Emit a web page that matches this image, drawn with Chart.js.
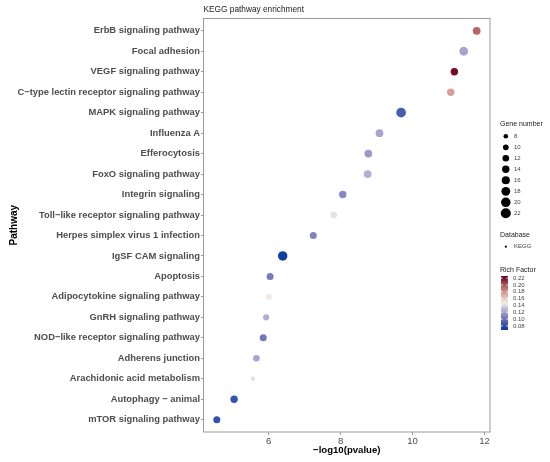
<!DOCTYPE html>
<html lang="en">
<head>
  <meta charset="UTF-8" />
  <title>KEGG pathway enrichment</title>
  <script src="https://cdn.jsdelivr.net/npm/chart.js"></script>
  <style>
    html, body { margin: 0; padding: 0; background: #fff; }
    .chart-container { width: 550px; height: 462px; position: relative; }
  </style>
</head>
<body>
  <div class="chart-container">
    <canvas id="keggChart"></canvas>
  </div>

  <script>
    // pathways, top to bottom
    const pathways = [
      "ErbB signaling pathway",
      "Focal adhesion",
      "VEGF signaling pathway",
      "C\u2212type lectin receptor signaling pathway",
      "MAPK signaling pathway",
      "Influenza A",
      "Efferocytosis",
      "FoxO signaling pathway",
      "Integrin signaling",
      "Toll\u2212like receptor signaling pathway",
      "Herpes simplex virus 1 infection",
      "IgSF CAM signaling",
      "Apoptosis",
      "Adipocytokine signaling pathway",
      "GnRH signaling pathway",
      "NOD\u2212like receptor signaling pathway",
      "Adherens junction",
      "Arachidonic acid metabolism",
      "Autophagy \u2212 animal",
      "mTOR signaling pathway"
    ];

    // -log10(pvalue)
    const logP = [11.78, 11.42, 11.16, 11.06, 9.68, 9.08, 8.77, 8.75, 8.06, 7.81,
                  7.24, 6.39, 6.04, 6.01, 5.93, 5.85, 5.66, 5.56, 5.04, 4.56];

    const geneNumber = [15, 18, 14, 14, 21, 15, 15, 15, 14, 12,
                        13, 20, 13, 10, 11, 13, 12, 8, 14, 13];

    const richFactor = [0.195, 0.121, 0.222, 0.175, 0.090, 0.121, 0.117, 0.125, 0.110, 0.143,
                        0.108, 0.070, 0.104, 0.148, 0.125, 0.103, 0.121, 0.152, 0.083, 0.082];

    const xTicks = [6, 8, 10, 12];
    const sizeBreaks = [8, 10, 12, 14, 16, 18, 20, 22];
    const richBreaks = [0.22, 0.20, 0.18, 0.16, 0.14, 0.12, 0.10, 0.08];

    const FONT = "'Liberation Sans', Arial, sans-serif";
    const RICH_MIN = 0.068, RICH_MAX = 0.226;

    // colour ramp for Rich Factor (blue -> off-white -> dark red)
    const rampStops = [
      [0.068, [11, 60, 159]],
      [0.090, [74, 92, 176]],
      [0.110, [138, 134, 192]],
      [0.130, [192, 188, 216]],
      [0.147, [243, 236, 228]],
      [0.170, [220, 176, 164]],
      [0.195, [184, 100, 100]],
      [0.226, [103, 0, 31]]
    ];

    function richColor(v) {
      if (v <= rampStops[0][0]) return `rgb(${rampStops[0][1].join(",")})`;
      for (let i = 1; i < rampStops.length; i++) {
        const [v1, c1] = rampStops[i];
        const [v0, c0] = rampStops[i - 1];
        if (v <= v1) {
          const t = (v - v0) / (v1 - v0);
          const c = c0.map((a, k) => Math.round(a + (c1[k] - a) * t));
          return `rgb(${c.join(",")})`;
        }
      }
      return `rgb(${rampStops[rampStops.length - 1][1].join(",")})`;
    }

    // point radius from gene number (area scaled)
    function radius(g) {
      return Math.sqrt(Math.max(5.3 + (g - 8) * 1.41, 1));
    }

    const points = pathways.map((p, i) => ({ x: logP[i], y: i, r: radius(geneNumber[i]) }));

    const extras = {
      id: "extras",
      afterDraw(chart) {
        const ctx = chart.ctx;
        const a = chart.chartArea;
        ctx.save();

        // panel border
        ctx.strokeStyle = "#9a9a9a";
        ctx.lineWidth = 1;
        ctx.strokeRect(a.left, a.top, a.right - a.left, a.bottom - a.top);

        // title
        ctx.fillStyle = "#1a1a1a";
        ctx.textBaseline = "middle";
        ctx.textAlign = "left";
        ctx.font = `8.3px ${FONT}`;
        ctx.fillText("KEGG pathway enrichment", a.left, 10);

        // gene number legend
        ctx.font = `7px ${FONT}`;
        ctx.fillText("Gene number", 500, 124);
        sizeBreaks.forEach((g, k) => {
          const y = 136.3 + k * 11;
          ctx.fillStyle = "#000";
          ctx.beginPath();
          ctx.arc(505.8, y, radius(g), 0, Math.PI * 2);
          ctx.fill();
          ctx.fillStyle = "#444";
          ctx.font = `6px ${FONT}`;
          ctx.fillText(String(g), 514, y);
        });

        // database legend
        ctx.fillStyle = "#1a1a1a";
        ctx.font = `7px ${FONT}`;
        ctx.fillText("Database", 500, 235.5);
        ctx.fillStyle = "#000";
        ctx.beginPath();
        ctx.arc(505.8, 246.7, 1.1, 0, Math.PI * 2);
        ctx.fill();
        ctx.fillStyle = "#444";
        ctx.font = `6px ${FONT}`;
        ctx.fillText("KEGG", 514, 246.7);

        // rich factor colour bar
        ctx.fillStyle = "#1a1a1a";
        ctx.font = `7px ${FONT}`;
        ctx.fillText("Rich Factor", 500, 270);
        const barTop = 276, barH = 54, barX = 501, barW = 7;
        const grad = ctx.createLinearGradient(0, barTop, 0, barTop + barH);
        rampStops.forEach(([v]) => {
          grad.addColorStop((RICH_MAX - v) / (RICH_MAX - RICH_MIN), richColor(v));
        });
        ctx.fillStyle = grad;
        ctx.fillRect(barX, barTop, barW, barH);
        ctx.font = `6px ${FONT}`;
        richBreaks.forEach((v) => {
          const y = barTop + (RICH_MAX - v) / (RICH_MAX - RICH_MIN) * barH;
          ctx.strokeStyle = "#fff";
          ctx.beginPath();
          ctx.moveTo(barX, y); ctx.lineTo(barX + 1.5, y);
          ctx.moveTo(barX + barW - 1.5, y); ctx.lineTo(barX + barW, y);
          ctx.stroke();
          ctx.fillStyle = "#444";
          ctx.fillText(v.toFixed(2), 513, y);
        });

        ctx.restore();
      }
    };

    const ctx = document.getElementById("keggChart").getContext("2d");
    new Chart(ctx, {
      type: "bubble",
      data: {
        datasets: [{
          label: "KEGG",
          data: points,
          backgroundColor: richFactor.map(richColor),
          borderWidth: 0,
          hoverBorderWidth: 0
        }]
      },
      options: {
        responsive: true,
        maintainAspectRatio: false,
        animation: false,
        layout: { padding: { left: 8.5, right: 60, top: 18.5, bottom: 5 } },
        plugins: {
          legend: { display: false },
          tooltip: { enabled: false }
        },
        scales: {
          x: {
            type: "linear",
            min: 4.19,
            max: 12.15,
            afterBuildTicks: (s) => { s.ticks = xTicks.map((v) => ({ value: v })); },
            afterFit: (s) => { s.height = 25; },
            ticks: { font: { family: FONT, size: 9.6 }, color: "#4d4d4d", padding: 1 },
            grid: { drawOnChartArea: false, tickLength: 3, color: "#9a9a9a" },
            border: { display: false },
            title: {
              display: true,
              text: "\u2212log10(pvalue)",
              font: { family: FONT, size: 9.6, weight: "bold" },
              color: "#000",
              padding: { top: 0, bottom: 1 }
            }
          },
          y: {
            type: "linear",
            min: -0.6,
            max: pathways.length - 0.4,
            reverse: true,
            afterBuildTicks: (s) => { s.ticks = pathways.map((_, i) => ({ value: i })); },
            afterFit: (s) => { s.width = 195; },
            ticks: {
              autoSkip: false,
              callback: (v) => pathways[v],
              font: { family: FONT, size: 9.4, weight: "bold" },
              color: "#4d4d4d",
              padding: 1
            },
            grid: { drawOnChartArea: false, tickLength: 2.5, color: "#9a9a9a" },
            border: { display: false },
            title: {
              display: true,
              text: "Pathway",
              font: { family: FONT, size: 10, weight: "bold" },
              color: "#000",
              padding: 0
            }
          }
        }
      },
      plugins: [extras]
    });
  </script>
</body>
</html>
